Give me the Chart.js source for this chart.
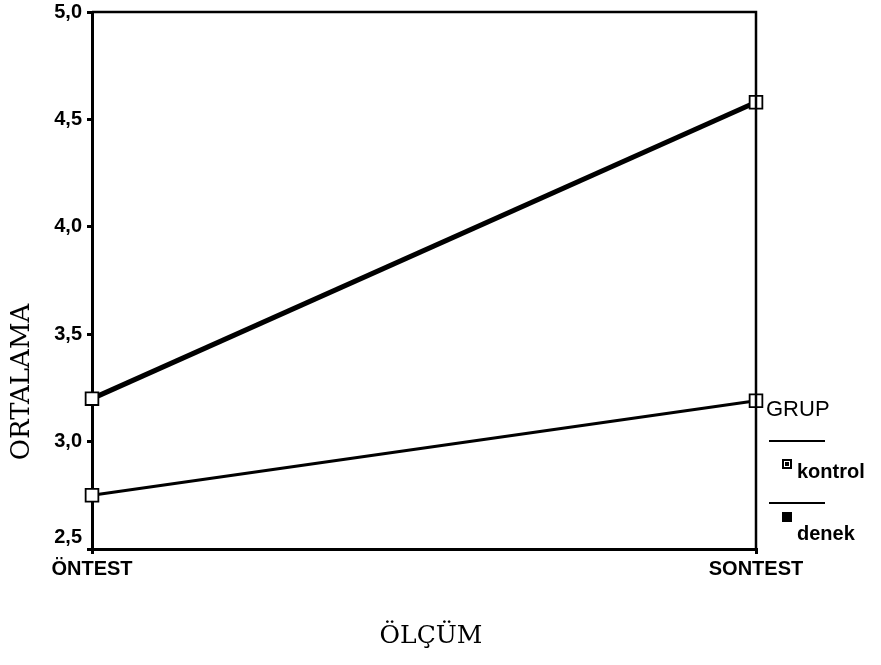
<!DOCTYPE html>
<html>
<head>
<meta charset="utf-8">
<script src="https://cdn.jsdelivr.net/npm/chart.js@4"></script>
<style>
    html, body { margin: 0; padding: 0; background: #fff; }
    #wrap { width: 881px; height: 665px; position: relative; }
</style>
</head>
<body>
<div id="wrap"><canvas id="meanChart"></canvas></div>
<script>
// Data
const categories = ['ÖNTEST', 'SONTEST'];
const kontrolMeans = [2.75, 3.19];
const denekMeans = [3.20, 4.58];
const groupNames = ['kontrol', 'denek'];
const yMin = 2.5;
const yMax = 5.0;
const yStep = 0.5;

const xTitle = 'ÖLÇÜM';
const yTitle = 'ORTALAMA';
const legendTitle = 'GRUP';

// Box round the plot, axis titles and the SPSS style legend
const framePlugin = {
    id: 'frame',
    afterDraw(chart) {
        const { ctx, chartArea: a } = chart;
        ctx.save();
        ctx.strokeStyle = '#000';
        ctx.lineWidth = 2.5;
        ctx.beginPath();
        ctx.moveTo(a.left, a.top);
        ctx.lineTo(a.right, a.top);
        ctx.lineTo(a.right, a.bottom);
        ctx.stroke();

        // axis titles
        ctx.fillStyle = '#000';
        ctx.textAlign = 'center';
        ctx.textBaseline = 'middle';
        ctx.font = '25px "DejaVu Serif"';
        ctx.fillText(xTitle, 431, 636);
        ctx.save();
        ctx.translate(22, 382);
        ctx.rotate(-Math.PI / 2);
        ctx.font = '26px "DejaVu Serif"';
        ctx.fillText(yTitle, 0, 0);
        ctx.restore();

        // legend
        ctx.textAlign = 'left';
        ctx.textBaseline = 'alphabetic';
        ctx.font = '22px "Liberation Sans"';
        ctx.fillText(legendTitle, 766, 416);
        ctx.lineWidth = 2;
        const rows = [
            { lineY: 441, boxY: 459, textY: 478, filled: false },
            { lineY: 503, boxY: 512, textY: 540, filled: true }
        ];
        ctx.font = 'bold 20px "Liberation Sans"';
        rows.forEach((r, i) => {
            ctx.beginPath();
            ctx.moveTo(769, r.lineY);
            ctx.lineTo(825, r.lineY);
            ctx.stroke();
            if (r.filled) {
                ctx.fillRect(782, r.boxY, 10, 10);
            } else {
                ctx.lineWidth = 2;
                ctx.strokeRect(783, r.boxY + 1, 8, 8);
                ctx.fillRect(785, r.boxY + 3, 4, 4);
            }
            ctx.fillText(groupNames[i], 797, r.textY);
        });
        ctx.restore();
    }
};

const ctx = document.getElementById('meanChart').getContext('2d');
new Chart(ctx, {
    type: 'line',
    data: {
        labels: categories,
        datasets: [
            {
                label: groupNames[0],
                data: kontrolMeans,
                borderColor: '#000',
                borderWidth: 3,
                pointStyle: 'rect',
                pointRadius: 9,
                pointBorderWidth: 1.8,
                pointBackgroundColor: '#fff',
                pointBorderColor: '#000',
                tension: 0,
                clip: false
            },
            {
                label: groupNames[1],
                data: denekMeans,
                borderColor: '#000',
                borderWidth: 5,
                pointStyle: 'rect',
                pointRadius: 9,
                pointBorderWidth: 1.8,
                pointBackgroundColor: '#fff',
                pointBorderColor: '#000',
                tension: 0,
                clip: false
            }
        ]
    },
    options: {
        responsive: true,
        maintainAspectRatio: false,
        animation: false,
        layout: { padding: { top: 12, right: 125, bottom: 0, left: 0 } },
        plugins: {
            legend: { display: false },
            tooltip: { enabled: false }
        },
        scales: {
            x: {
                type: 'category',
                offset: false,
                border: { display: true, color: '#000', width: 3 },
                grid: { drawOnChartArea: false, color: '#000', tickLength: 5, lineWidth: 3 },
                ticks: {
                    color: '#000',
                    padding: 3,
                    maxRotation: 0,
                    font: { family: 'Liberation Sans', size: 20, weight: 'bold' }
                },
                afterFit(scale) { scale.height = 116; }
            },
            y: {
                min: yMin,
                max: yMax,
                border: { display: true, color: '#000', width: 3 },
                grid: { drawOnChartArea: false, color: '#000', tickLength: 5, lineWidth: 3 },
                ticks: {
                    stepSize: yStep,
                    color: '#000',
                    padding: 5,
                    font: { family: 'Liberation Sans', size: 20, weight: 'bold', lineHeight: 1.2 },
                    // lowest label sits a little above its tick, as in the original
                    callback: v => {
                        const s = v.toFixed(1).replace('.', ',');
                        return v === yMin ? [s, ''] : s;
                    }
                },
                afterFit(scale) {
                    scale.width = 92;
                    scale.paddingTop = 0;
                }
            }
        }
    },
    plugins: [framePlugin]
});
</script>
</body>
</html>
